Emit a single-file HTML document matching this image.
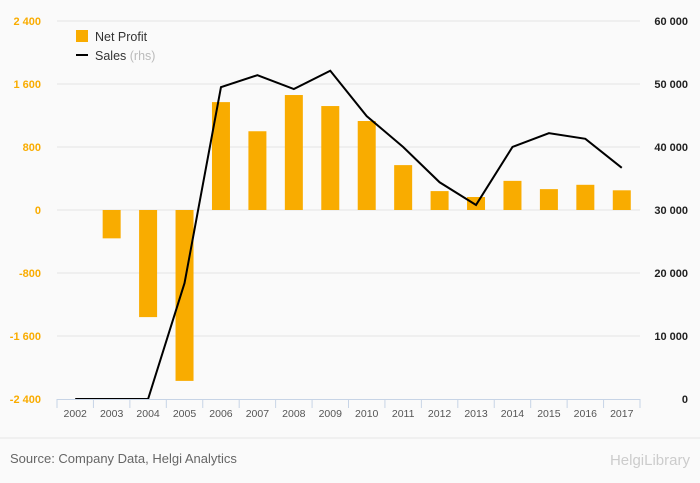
<!DOCTYPE html>
<html><head><meta charset="utf-8"><style>
body{margin:0;background:#fafafa;font-family:"Liberation Sans",sans-serif;}
svg{display:block}
</style></head><body>
<svg width="700" height="483">
<rect width="700" height="483" fill="#fafafa"/>
<g id="grid"></g><g id="bars"></g><g id="line"></g><g id="axes"></g>
<g>
<rect x="76" y="30" width="12" height="12" fill="#f9ac00"/>
<text x="95" y="41" font-size="12.5" fill="#333">Net Profit</text>
<rect x="76" y="54" width="12" height="2" fill="#000"/>
<text x="95" y="60" font-size="12.5" fill="#333">Sales <tspan fill="#bbb">(rhs)</tspan></text>
</g>
<line x1="0" y1="438" x2="700" y2="438" stroke="#e6e6e6"/>
<text x="10" y="463" font-size="13" fill="#666">Source: Company Data, Helgi Analytics</text>
<text x="690" y="465" font-size="15" fill="#ccc" text-anchor="end">HelgiLibrary</text>
</svg>
<script>
const years=["2002","2003","2004","2005","2006","2007","2008","2009","2010","2011","2012","2013","2014","2015","2016","2017"];
const profit=[0,-360,-1360,-2170,1370,1000,1460,1320,1130,570,240,165,370,265,320,250];
const sales=[0,0,0,18400,49500,51400,49200,52100,44900,40000,34400,30800,40000,42200,41300,36700];
const leftTicks=[-2400,-1600,-800,0,800,1600,2400];
const rightTicks=[0,10000,20000,30000,40000,50000,60000];
const NS="http://www.w3.org/2000/svg";
const x0=57,x1=640,yT=21,yB=399;
const bw=(x1-x0)/years.length;
const xc=i=>x0+bw*(i+0.5);
const yL=v=>yB-(v+2400)/4800*(yB-yT);
const yR=v=>yB-v/60000*(yB-yT);
const fmt=v=>{const s=String(Math.abs(v)).replace(/\B(?=(\d{3})+(?!\d))/g," ");return (v<0?"-":"")+s;};
function mk(tag,at,parent){const e=document.createElementNS(NS,tag);for(const k in at)e.setAttribute(k,at[k]);document.getElementById(parent).appendChild(e);return e;}
leftTicks.forEach(v=>{
 const y=yL(v);
 if(v>-2400){const g=mk("line",{x1:x0,x2:x1,y1:y,y2:y,stroke:"#e4e4e4"},"grid");
 
 }
 const t=mk("text",{x:41,y:y+4,"text-anchor":"end","font-size":"11","font-weight":"bold",fill:"#f9ac00"},"axes");t.textContent=fmt(v);
 
 
});
rightTicks.forEach(v=>{
 const t=mk("text",{x:688,y:yR(v)+4,"text-anchor":"end","font-size":"11","font-weight":"bold",fill:"#222"},"axes");t.textContent=fmt(v);
 
 
});
const ax=mk("line",{x1:x0,x2:x1,y1:yB+0.5,y2:yB+0.5,stroke:"#c7d4e6"},"axes");


for(let i=0;i<=years.length;i++){
 const xx=x0+bw*i;
 const tk=mk("line",{x1:xx,x2:xx,y1:yB,y2:yB+9,stroke:"#c7d4e6"},"axes");
 
 
}
years.forEach((yv,i)=>{
 const t=mk("text",{x:xc(i),y:yB+18,"text-anchor":"middle","font-size":"10.5",fill:"#555"},"axes");t.textContent=yv;
 
 
 const v=profit[i];if(v===0)return;
 const y0=yL(0),y1=yL(v);
 const r=mk("rect",{x:xc(i)-9,width:18,y:Math.min(y0,y1),height:Math.abs(y1-y0),fill:"#f9ac00"},"bars");
 
 
});
const p=mk("polyline",{points:sales.map((v,i)=>xc(i)+","+yR(v)).join(" "),fill:"none",stroke:"#000","stroke-width":"2"},"line");


</script>
</body></html>
